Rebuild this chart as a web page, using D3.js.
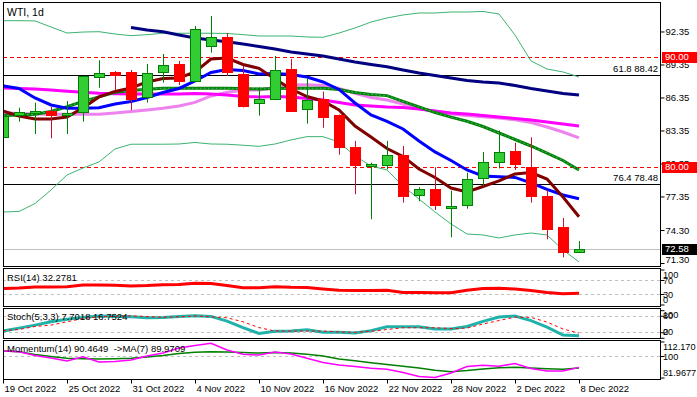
<!DOCTYPE html>
<html>
<head>
<meta charset="utf-8">
<script src="https://cdn.jsdelivr.net/npm/d3@7"></script>
<style>
  body { margin: 0; background: #fff; }
  svg { display: block; font-family: "Liberation Sans", Arial, sans-serif; }
</style>
</head>
<body>
<div id="chart"></div>
<script>
// bars, 19 Oct - 8 Dec 2022
var dates = ["19 Oct 2022","20 Oct 2022","21 Oct 2022","24 Oct 2022","25 Oct 2022","26 Oct 2022","27 Oct 2022","28 Oct 2022",
  "31 Oct 2022","1 Nov 2022","2 Nov 2022","3 Nov 2022","4 Nov 2022","7 Nov 2022","8 Nov 2022","9 Nov 2022",
  "10 Nov 2022","11 Nov 2022","14 Nov 2022","15 Nov 2022","16 Nov 2022","17 Nov 2022","18 Nov 2022","21 Nov 2022",
  "22 Nov 2022","23 Nov 2022","24 Nov 2022","25 Nov 2022","28 Nov 2022","29 Nov 2022","30 Nov 2022","1 Dec 2022",
  "2 Dec 2022","5 Dec 2022","6 Dec 2022","7 Dec 2022","8 Dec 2022"];

var open  = [82.79,84.70,84.94,85.12,84.76,85.00,88.19,88.67,88.67,86.37,88.64,89.40,87.82,90.97,91.82,88.49,85.82,86.15,88.94,85.24,
  86.21,84.76,81.85,80.12,80.24,81.10,77.42,78.00,76.28,76.51,79.00,80.44,81.49,80.00,77.40,74.58,72.33];
var high  = [84.90,85.42,85.88,85.49,86.03,88.35,89.73,88.76,88.85,89.40,90.30,89.67,92.85,93.76,92.19,89.21,87.28,90.12,89.85,88.12,
  86.88,84.80,82.40,80.42,82.40,81.94,78.19,80.00,77.88,79.51,81.40,83.35,82.24,82.73,77.94,75.40,73.30];
var low   = [81.76,84.15,83.03,82.64,83.03,84.15,87.24,87.03,85.21,85.88,87.70,87.49,87.78,90.42,88.30,85.44,84.70,86.10,85.06,83.97,
  83.60,81.15,77.55,75.28,79.82,76.79,76.91,76.12,73.64,76.24,78.30,79.90,79.76,76.79,73.46,71.82,72.24];
var close = [84.70,85.00,85.12,84.79,84.94,88.30,88.55,88.37,86.19,88.55,89.28,87.88,92.55,91.82,88.60,85.60,86.21,88.82,85.15,86.10,
  84.60,81.82,80.24,80.28,81.12,77.33,78.00,76.51,76.49,78.91,80.46,81.38,80.28,77.37,74.42,72.33,72.58];

// overlays
var bbUpper = [93.33,93.33,93.31,92.76,92.21,92.30,92.33,92.12,91.97,92.06,92.19,92.19,92.19,92.19,92.17,92.06,91.94,91.94,91.94,91.85,
  91.82,92.21,92.67,93.21,93.58,93.85,94.03,94.03,94.12,94.12,94.17,93.94,92.03,89.67,88.94,88.67,88.21];
var bbLower = [75.94,75.99,76.71,77.94,79.30,79.94,80.49,81.67,82.10,82.10,82.10,82.12,82.26,82.12,82.10,82.01,81.91,82.12,82.49,82.79,
  82.79,82.30,81.03,80.12,79.76,78.30,77.12,75.94,74.85,73.94,73.85,73.58,73.85,74.03,73.85,72.49,71.40];
var ma20 = [84.71,84.76,84.82,85.08,85.51,85.99,86.40,86.82,86.99,87.10,87.19,87.19,87.19,87.19,87.19,87.16,87.12,87.17,87.19,87.19,
  87.19,87.08,86.80,86.62,86.52,85.99,85.49,84.98,84.56,84.19,83.71,83.12,82.53,81.94,81.30,80.62,79.76];
var maNavy = [null,null,null,null,null,null,null,null,92.71,92.49,92.33,92.03,91.76,91.58,91.42,91.21,90.99,90.76,90.49,90.30,
  90.12,89.85,89.58,89.35,89.15,88.85,88.58,88.35,88.12,87.90,87.76,87.67,87.44,87.17,86.94,86.71,86.58];
var maBlue = [87.40,87.17,86.31,85.67,85.37,85.37,85.42,85.76,85.99,86.35,86.80,87.17,87.85,88.62,88.90,88.80,88.49,88.53,88.44,88.21,
  87.76,87.08,85.85,84.76,84.17,83.49,82.40,81.40,80.62,79.76,79.21,79.15,79.08,78.58,77.99,77.49,77.15];
var maMaroon = [85.12,84.67,84.40,84.40,84.58,85.40,86.40,86.90,87.21,87.76,88.08,88.12,88.67,89.85,89.94,89.35,89.00,88.03,87.12,86.44,
  86.03,85.21,83.76,82.76,81.71,80.99,79.85,79.08,78.12,77.76,78.26,78.76,79.40,79.53,78.94,77.30,75.51];
var maMagenta = [87.21,87.17,87.12,87.03,86.91,86.82,86.74,86.70,86.67,86.67,86.67,86.67,86.71,86.67,86.58,86.44,86.40,86.44,86.40,86.26,
  86.12,85.90,85.67,85.58,85.49,85.44,85.30,85.12,84.94,84.85,84.71,84.58,84.44,84.30,84.12,83.94,83.76];
var maViolet = [84.97,84.90,84.85,84.83,84.82,84.82,84.82,84.94,85.08,85.21,85.37,85.58,85.90,86.49,86.82,87.00,87.03,87.26,87.49,87.51,
  87.44,87.17,86.74,86.35,86.12,85.76,85.35,85.08,84.85,84.70,84.60,84.49,84.33,84.08,83.67,83.21,82.67];

// indicators
var rsi = [46,47,50,50,51,56,56,55,53,54,56.5,57,61,60,54,48,48,51,49,48.5,44,40.5,40,40,40.5,34,34,33.5,33.5,40.5,45.5,46.5,44,40,34.5,31,32.28];
var stochMain = [24.5,35,46,58,67,74,79,77.5,76,73,74,77,80,77.5,60.5,37,16,23.5,24.5,29,20,20,17.5,26,40,40,40,32,32,41,59.5,75,79,62.5,39,10,7.70];
var stochSignal = [26,30,41,46,58,70,76,78,79.5,77,74.5,76,79,76,72.5,58,37,24.5,24.5,24.5,24.5,21,20,23.5,30,36.5,36.5,36.5,33.5,35,50,62.5,75,74,57,32,16.75];
var momentum = [104.2,103.6,100.4,98.3,95.8,99.4,95.0,95.4,96.6,100,102.5,106.7,108.8,110.7,105,101.4,100.8,103.4,101.7,98.1,
  94.6,92.5,91.2,89.7,88.9,86.2,82.8,82.0,85.7,91.2,92.3,91.4,93.7,89.5,87.4,87.4,90.46];
var momentumMA = [104.2,103.6,101.3,99.6,98.1,97.7,97.5,97.7,98.1,99.2,100.4,102.1,103.1,103.6,103.4,102.9,102.5,102.9,102.5,101.4,
  100,97.5,96,94.3,92.9,91.4,89.9,88.1,86.8,87.8,89.1,90.2,90.5,89.9,89.3,88.9,89.97];

// price scale labels and levels
var priceTicks = [92.35, 89.35, 86.35, 83.35, 80.35, 77.35, 74.30, 71.30];
var redLevels = [90.00, 80.00];
var fibValues = [88.42, 78.48];
var fibLabels = ["61.8 88.42", "76.4 78.48"];
var lastPrice = 72.58;
var rsiTicks = [100, 70, 30, 0];
var stochTicks = [100, 80, 20, 0];
var momTicks = [112.170, 100, 81.9677];
var momTickLabels = ["112.170", "100", "81.9677"];

(function () {
  "use strict";

  var w = 697, h = 397,
    left = 3, right = 660,
    svg, x,
    panels = {
      main:  { top: 2,   bottom: 266 },
      rsi:   { top: 268, bottom: 306 },
      stoch: { top: 308, bottom: 338 },
      mom:   { top: 340, bottom: 379 }
    },
    idx = d3.range(dates.length);

  function createSvg() {
    svg = d3.select("#chart").append("svg")
      .attr("width", w)
      .attr("height", h);
    x = d3.scaleLinear().domain([0, (right - left) / 16]).range([left, right]);
  }

  function clipFor(name, p) {
    svg.append("clipPath").attr("id", "clip-" + name)
      .append("rect")
      .attr("x", left + 1).attr("y", p.top + 1)
      .attr("width", right - left - 1).attr("height", p.bottom - p.top - 1);
    return svg.append("g").attr("clip-path", "url(#clip-" + name + ")");
  }

  function panelBorder(p) {
    svg.append("rect")
      .attr("x", left + 0.5).attr("y", p.top + 0.5)
      .attr("width", right - left).attr("height", p.bottom - p.top)
      .attr("fill", "none").attr("stroke", "#000");
  }

  function drawLine(g, y, values, color, width, dash) {
    var line = d3.line()
      .defined(function (d) { return d != null; })
      .x(function (d, i) { return x(i); })
      .y(function (d) { return y(d); });
    g.append("path")
      .datum(values)
      .attr("d", line)
      .attr("fill", "none")
      .attr("stroke", color)
      .attr("stroke-width", width)
      .attr("stroke-dasharray", dash || null);
  }

  function hLine(g, yPos, color, dash) {
    g.append("line")
      .attr("x1", left).attr("x2", right)
      .attr("y1", Math.round(yPos) + 0.5).attr("y2", Math.round(yPos) + 0.5)
      .attr("stroke", color)
      .attr("stroke-dasharray", dash || null);
  }

  // small = indicator panels, labels sit a bit more to the left
  function rightAxis(y, ticks, labels, p, small) {
    var ax = d3.axisRight(y)
      .tickValues(ticks)
      .tickSize(4)
      .tickFormat(function (d, i) { return labels ? labels[i] : d; });
    var g = svg.append("g")
      .attr("transform", "translate(" + (right + 0.5) + ",0)")
      .call(ax);
    g.select(".domain").remove();
    g.selectAll("line").attr("stroke", "#000");
    g.selectAll("text")
      .attr("x", small ? 2.5 : 5)
      .attr("dy", "0.35em")
      .attr("fill", "#000")
      .style("font-size", small ? "9.2px" : "9.5px")
      .attr("y", function (d) {
        // labels stay inside their panel like in the terminal
        var yy = y(d), lo = p.top + 6.5, hi = p.bottom - 6.5;
        return Math.max(lo, Math.min(hi, yy)) - yy;
      });
    return g;
  }

  function drawMain() {
    var p = panels.main;
    var y = d3.scaleLinear().domain([71.03, 95.03]).range([p.bottom, p.top]);
    var g = clipFor("main", p);

    // levels
    hLine(g, y(lastPrice), "#c0c0c0");
    redLevels.forEach(function (v) { hLine(g, y(v), "#ff0000", "4,3"); });
    fibValues.forEach(function (v) { hLine(g, y(v), "#000"); });

    // bollinger bands + moving averages
    drawLine(g, y, bbUpper, "#3cb371", 1);
    drawLine(g, y, bbLower, "#3cb371", 1);
    drawLine(g, y, maViolet, "#ee82ee", 3);
    drawLine(g, y, maMagenta, "#ff00ff", 3);
    drawLine(g, y, ma20, "#008000", 3);
    drawLine(g, y, ma20, "#3cb371", 1, "2,2");
    drawLine(g, y, maNavy, "#000080", 3);
    drawLine(g, y, maBlue, "#0000ff", 3);
    drawLine(g, y, maMaroon, "#800000", 3);

    // candles
    g.selectAll(".wick")
      .data(idx).enter().append("line")
      .attr("class", "wick")
      .attr("x1", function (i) { return Math.round(x(i)) + 0.5; })
      .attr("x2", function (i) { return Math.round(x(i)) + 0.5; })
      .attr("y1", function (i) { return y(high[i]); })
      .attr("y2", function (i) { return y(low[i]); })
      .attr("stroke", function (i) { return close[i] >= open[i] ? "#008000" : "#c8102e"; });

    g.selectAll(".body")
      .data(idx).enter().append("rect")
      .attr("class", "body")
      .attr("x", function (i) { return Math.round(x(i)) - 4.5; })
      .attr("width", 10)
      .attr("y", function (i) { return Math.round(y(Math.max(open[i], close[i]))) + 0.5; })
      .attr("height", function (i) { return Math.max(1, Math.round(Math.abs(y(open[i]) - y(close[i])))); })
      .attr("fill", function (i) { return close[i] >= open[i] ? "#32cd32" : "#ff0000"; })
      .attr("stroke", function (i) { return close[i] >= open[i] ? "#008000" : "#ff0000"; });

    // fib labels
    fibValues.forEach(function (v, i) {
      svg.append("text")
        .attr("x", right - 2).attr("y", y(v) - 3)
        .attr("text-anchor", "end")
        .style("font-size", "9.5px")
        .text(fibLabels[i]);
    });

    svg.append("text")
      .attr("x", 7).attr("y", 16)
      .style("font-size", "10.5px")
      .text("WTI, 1d");

    panelBorder(p);
    rightAxis(y, priceTicks, priceTicks.map(function (d) { return d.toFixed(2); }), p, false);

    // price boxes on the scale
    var boxes = redLevels.map(function (v) { return { v: v, bg: "#ff0000" }; })
      .concat([{ v: lastPrice, bg: "#000" }]);
    boxes.forEach(function (b) {
      var yy = Math.round(y(b.v));
      svg.append("rect")
        .attr("x", right + 2).attr("y", yy - 5)
        .attr("width", w - right - 2).attr("height", 11)
        .attr("fill", b.bg);
      svg.append("text")
        .attr("x", right + 5).attr("y", yy)
        .attr("dy", "0.35em")
        .attr("fill", "#fff")
        .style("font-size", "9.5px")
        .text(b.v.toFixed(2));
    });
  }

  function drawRsi() {
    var p = panels.rsi;
    var y = d3.scaleLinear().domain([0, 100]).range([304.5, 269.5]);
    var g = clipFor("rsi", p);
    hLine(g, y(70), "#c0c0c0", "3,3");
    hLine(g, y(30), "#c0c0c0", "3,3");
    drawLine(g, y, rsi, "#ff0000", 3);
    svg.append("text").attr("x", 7).attr("y", p.top + 13)
      .style("font-size", "9.5px").text("RSI(14) 32.2781");
    panelBorder(p);
    rightAxis(y, rsiTicks, null, p, true);
  }

  function drawStoch() {
    var p = panels.stoch;
    var y = d3.scaleLinear().domain([0, 100]).range([337.8, 310.2]);
    var g = clipFor("stoch", p);
    hLine(g, y(80), "#c0c0c0", "3,3");
    hLine(g, y(20), "#c0c0c0", "3,3");
    drawLine(g, y, stochMain, "#20b2aa", 3);
    drawLine(g, y, stochSignal, "#ff0000", 1, "3,3");
    svg.append("text").attr("x", 7).attr("y", p.top + 12)
      .style("font-size", "9.5px").text("Stoch(5,3,3) 7.7018 16.7524");
    panelBorder(p);
    rightAxis(y, stochTicks, null, p, true);
  }

  function drawMomentum() {
    var p = panels.mom;
    var y = d3.scaleLinear().domain([81.9677, 112.170]).range([377.5, 341.5]);
    var g = clipFor("mom", p);
    hLine(g, y(100), "#c0c0c0", "3,3");
    drawLine(g, y, momentumMA, "#008000", 1.5);
    drawLine(g, y, momentum, "#ff00ff", 1.5);
    svg.append("text").attr("x", 7).attr("y", p.top + 12)
      .style("font-size", "9.5px").style("white-space", "pre")
      .text("Momentum(14) 90.4649  ->MA(7) 89.9709");
    panelBorder(p);
    rightAxis(y, momTicks, momTickLabels, p, true);
  }

  function drawDates() {
    var tickIdx = idx.filter(function (i) { return i % 4 === 0; });
    var ax = d3.axisBottom(x)
      .tickValues(tickIdx)
      .tickSize(4)
      .tickFormat(function (i) { return dates[i]; });
    var g = svg.append("g")
      .attr("transform", "translate(0," + (panels.mom.bottom + 0.5) + ")")
      .call(ax);
    g.select(".domain").remove();
    g.selectAll("line").attr("stroke", "#000");
    g.selectAll("text")
      .attr("text-anchor", "start")
      .attr("x", 1)
      .attr("y", 9)
      .attr("dy", "0.35em")
      .attr("fill", "#000")
      .style("font-size", "9.5px");
  }

  function makeChart() {
    createSvg();
    drawMain();
    drawRsi();
    drawStoch();
    drawMomentum();
    drawDates();
  }

  makeChart();
})();
</script>
</body>
</html>
